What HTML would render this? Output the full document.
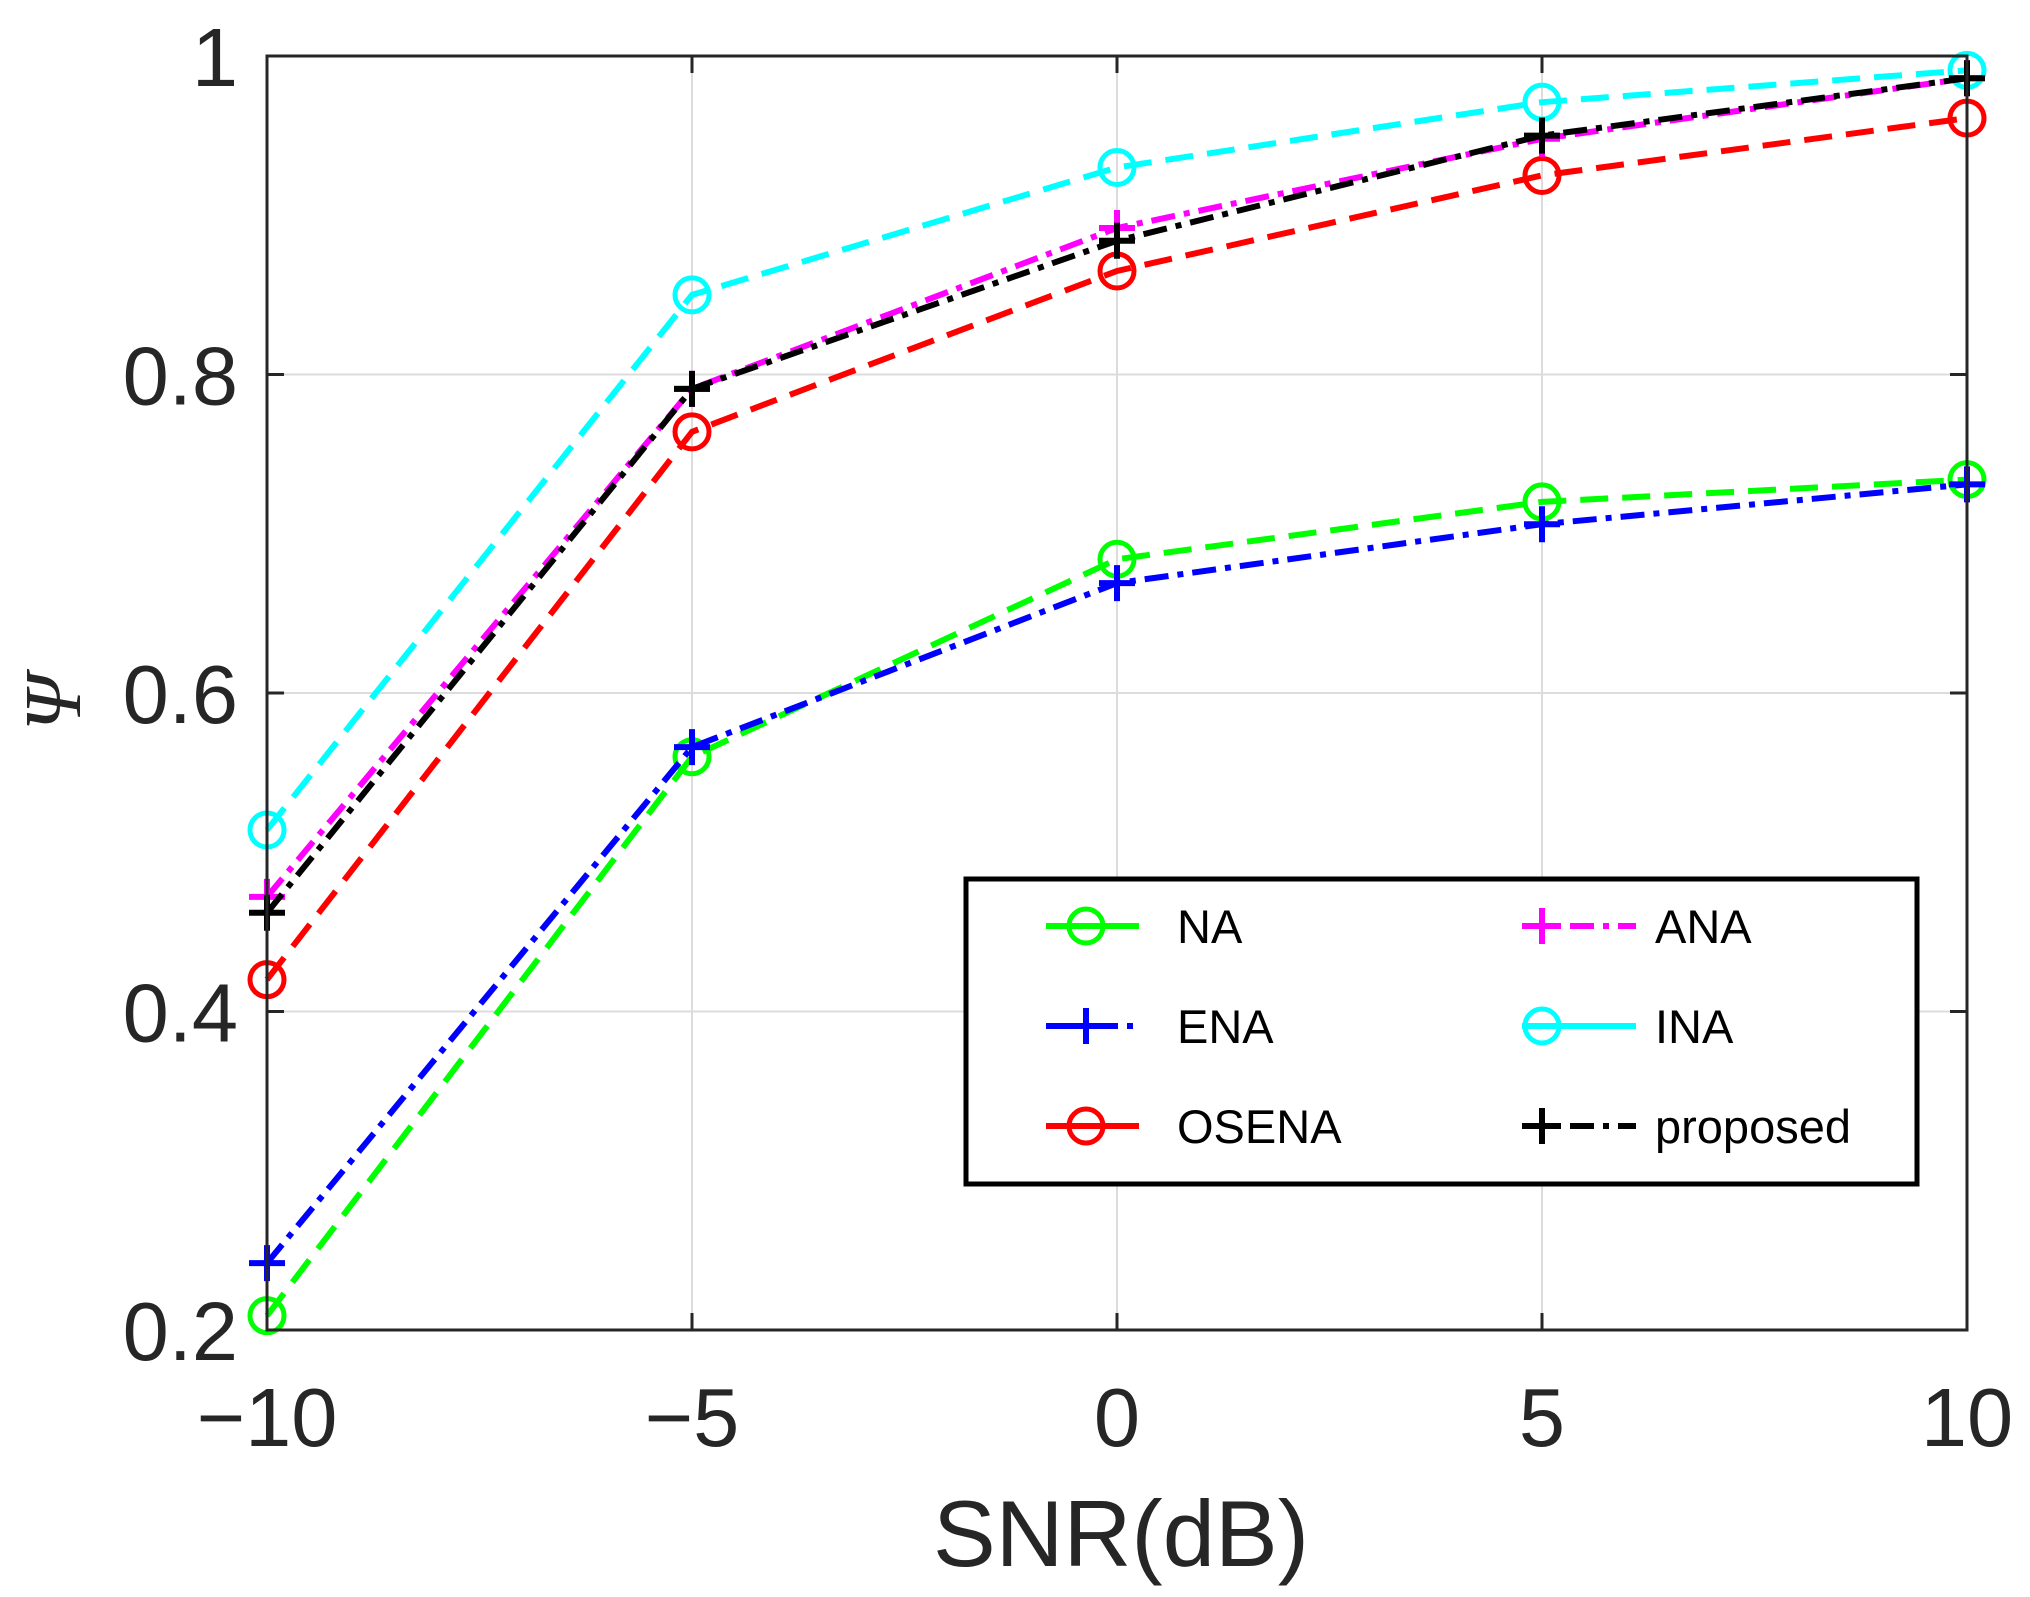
<!DOCTYPE html>
<html><head><meta charset="utf-8"><style>
html,body{margin:0;padding:0;background:#fff;}
svg{display:block;font-family:"Liberation Sans",sans-serif;}
</style></head><body>
<svg id="chart" width="2030" height="1597" viewBox="0 0 2030 1597" xmlns="http://www.w3.org/2000/svg">
<g id="grid"></g>
<g id="series"></g>
<rect x="267" y="56" width="1700" height="1274" fill="none" stroke="#262626" stroke-width="3"/>
<g id="ticks"></g>
<text x="1121" y="1566" font-size="94" text-anchor="middle" fill="#262626">SNR(dB)</text>
<text x="0" y="0" font-size="80" text-anchor="middle" fill="#262626" font-family="Liberation Serif,serif" font-style="italic" transform="translate(80,703) rotate(-90)">Ψ</text>
<g id="legend">
<rect x="966" y="879" width="951" height="305" fill="#fff" stroke="#000" stroke-width="5"/>
</g>
</svg>
<script>
const xCats = [-10, -5, 0, 5, 10];
const xTickLabels = ['\u221210', '\u22125', '0', '5', '10'];
const yTicks = [0.2, 0.4, 0.6, 0.8, 1];
const yTickLabels = ['0.2', '0.4', '0.6', '0.8', '1'];
const naVals = [0.209, 0.560, 0.684, 0.720, 0.734];
const enaVals = [0.242, 0.566, 0.669, 0.706, 0.731];
const osenaVals = [0.420, 0.764, 0.865, 0.925, 0.961];
const anaVals = [0.472, 0.791, 0.892, 0.948, 0.986];
const inaVals = [0.514, 0.850, 0.930, 0.971, 0.991];
const proposedVals = [0.462, 0.791, 0.884, 0.950, 0.986];
const seriesNames = ['NA', 'ENA', 'OSENA', 'ANA', 'INA', 'proposed'];

const L=267,R=1967,T=56,B=1330;
const xs=v=>L+(v+10)/20*(R-L);
const ys=v=>B-(v-0.2)/0.8*(B-T);
const NS='http://www.w3.org/2000/svg';
function mk(tag,attrs,parent){const e=document.createElementNS(NS,tag);for(const k in attrs)e.setAttribute(k,attrs[k]);parent.appendChild(e);return e;}
const grid=document.getElementById('grid'),ticks=document.getElementById('ticks'),ser=document.getElementById('series'),leg=document.getElementById('legend');
xCats.forEach((c,i)=>{
  const g=mk('line',{x1:xs(c),x2:xs(c),y1:T,y2:B,stroke:'#dcdcdc','stroke-width':2},grid);
  
  
  const t1=mk('line',{x1:xs(c),x2:xs(c),y1:B,y2:B-17,stroke:'#262626','stroke-width':3},ticks);
  
  
  const t2=mk('line',{x1:xs(c),x2:xs(c),y1:T,y2:T+17,stroke:'#262626','stroke-width':3},ticks);
  
  
  const lb=mk('text',{x:xs(c),y:1446,'font-size':83,'text-anchor':'middle',fill:'#262626'},ticks);
  lb.textContent=xTickLabels[i];
  
  
});
yTicks.forEach((v,i)=>{
  const g=mk('line',{x1:L,x2:R,y1:ys(v),y2:ys(v),stroke:'#dcdcdc','stroke-width':2},grid);
  
  
  const t1=mk('line',{x1:L,x2:L+17,y1:ys(v),y2:ys(v),stroke:'#262626','stroke-width':3},ticks);
  
  
  const t2=mk('line',{x1:R,x2:R-17,y1:ys(v),y2:ys(v),stroke:'#262626','stroke-width':3},ticks);
  
  
  const lb=mk('text',{x:238,y:ys(v)+30,'font-size':83,'text-anchor':'end',fill:'#262626'},ticks);
  lb.textContent=yTickLabels[i];
  
  
});
const styles=[
 {vals:naVals,color:'#00ff00',dash:'28,14',mark:'o'},
 {vals:enaVals,color:'#0000ff',dash:'24,9,6,9',mark:'+'},
 {vals:osenaVals,color:'#ff0000',dash:'28,14',mark:'o'},
 {vals:anaVals,color:'#ff00ff',dash:'24,9,6,9',mark:'+'},
 {vals:inaVals,color:'#00ffff',dash:'28,14',mark:'o'},
 {vals:proposedVals,color:'#000000',dash:'24,9,6,9',mark:'+'}
];
function marker(m,x,y,color,parent,name){
  let e;
  if(m==='o'){e=mk('circle',{cx:x,cy:y,r:17,fill:'none',stroke:color,'stroke-width':5},parent);}
  else{e=mk('path',{d:`M${x-18},${y}H${x+18}M${x},${y-18}V${y+18}`,stroke:color,'stroke-width':6,fill:'none'},parent);}
  
  
}
styles.forEach((s,si)=>{
  const pts=s.vals.map((v,i)=>xs(xCats[i])+','+ys(v)).join(' ');
  const pl=mk('polyline',{points:pts,fill:'none',stroke:s.color,'stroke-width':6,'stroke-dasharray':s.dash},ser);
  
  
  s.vals.forEach((v,i)=>marker(s.mark,xs(xCats[i]),ys(v),s.color,ser,'point-'+seriesNames[si].toLowerCase()));
  const col=si<3?0:1,row=si%3;
  const lx=col?1522:1046,ly=926+row*100,lw=col?114:93;
  const ll=mk('line',{x1:lx,x2:lx+lw,y1:ly,y2:ly,stroke:s.color,'stroke-width':6,'stroke-dasharray':s.mark==='o'?'none':'24,9,6,9'},leg);
  
  
  marker(s.mark,col?lx+20:lx+40,ly,s.color,leg,'legend-marker');
  const lt=mk('text',{x:col?1655:1177,y:ly+17,'font-size':47,fill:'#000'},leg);
  lt.textContent=seriesNames[si];
  
  
});
</script>
</body></html>
